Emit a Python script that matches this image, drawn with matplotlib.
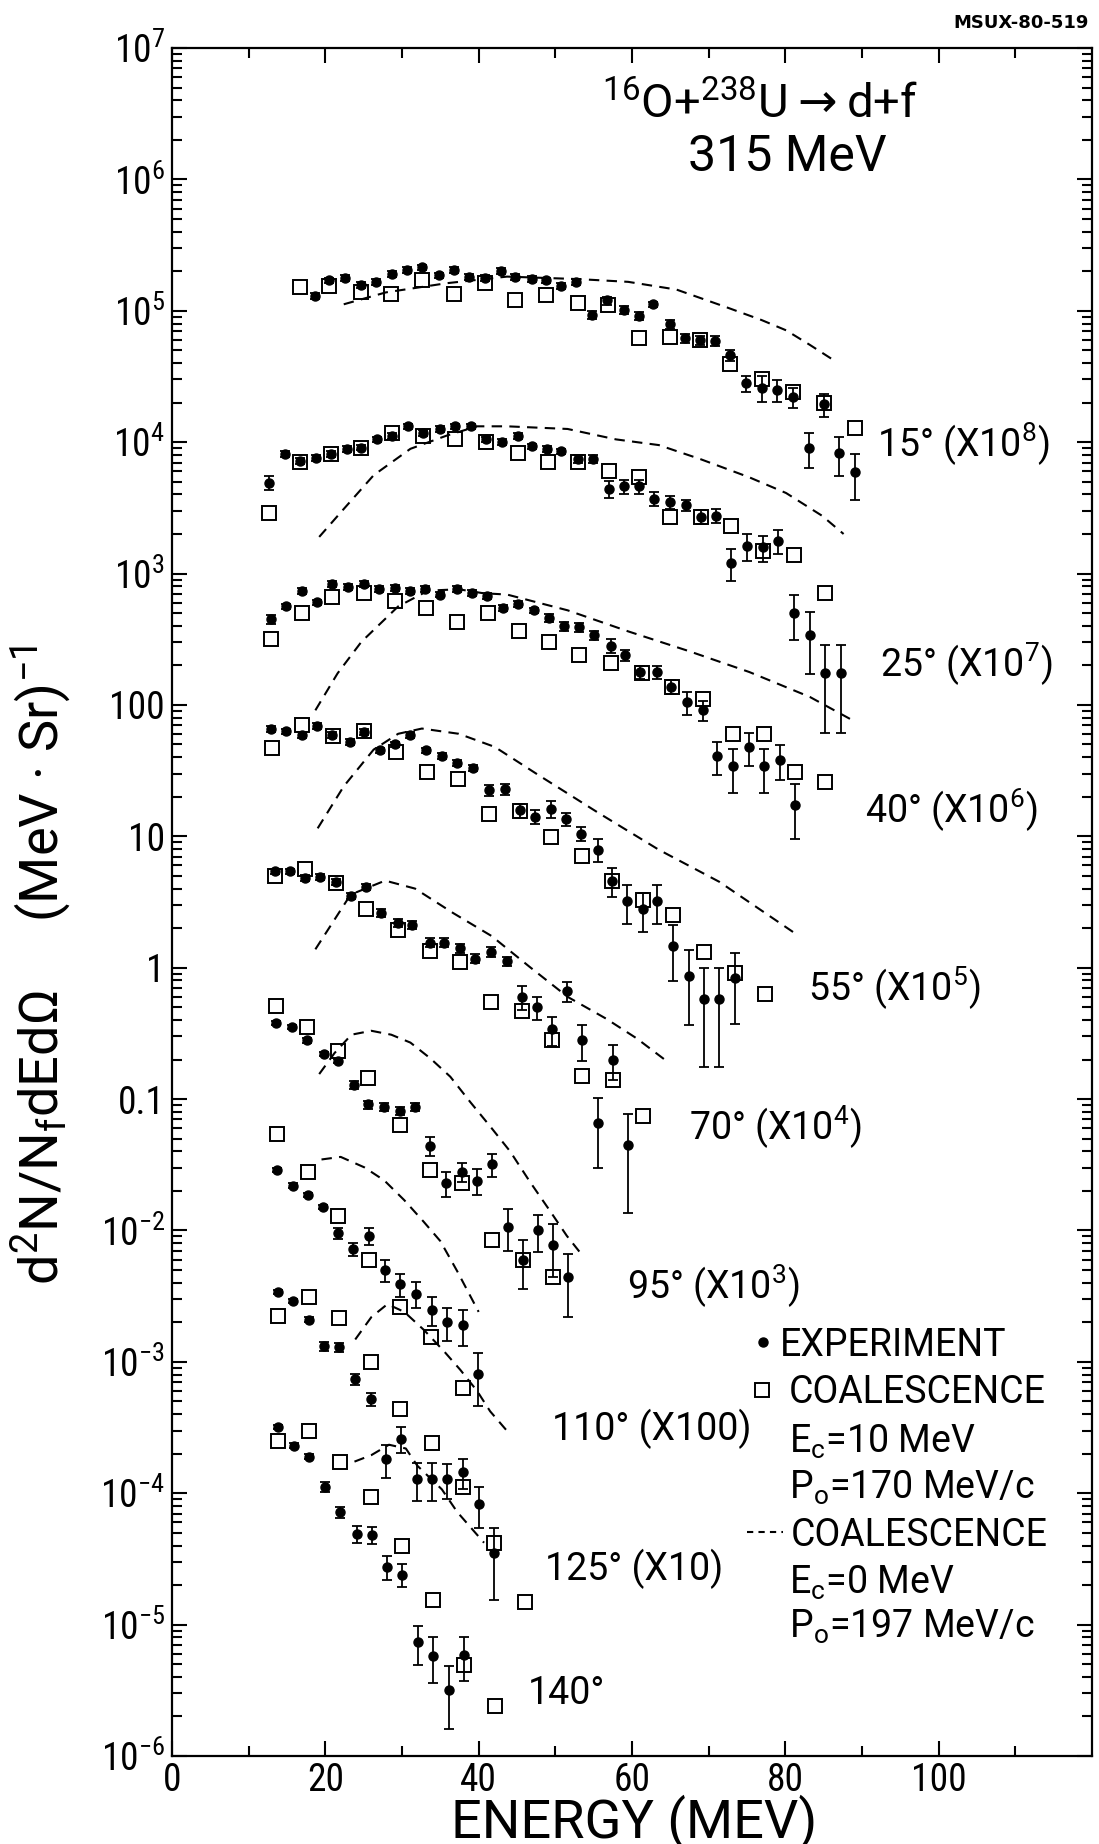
import numpy as np
import matplotlib
matplotlib.use('Agg')
import matplotlib.pyplot as plt
from matplotlib.ticker import FixedLocator, LogLocator, NullFormatter

# ---------------- data (already scaled by the factors) ----
# 15 deg (x1e8)
e15_exp = [18.7, 20.5, 22.5, 24.6, 26.6, 28.7, 30.7, 32.6, 34.8, 36.8, 38.8, 40.8, 42.9, 44.8, 46.9, 48.8,
           50.8, 52.7, 54.8, 56.8, 58.9, 60.9, 62.8, 64.9, 66.9, 68.9, 70.8, 72.8, 74.9, 76.9, 78.9, 81.0,
           83.1, 85.1, 87.0, 89.1]
y15_exp = [1.29e5, 1.70e5, 1.78e5, 1.58e5, 1.66e5, 1.91e5, 2.04e5, 2.14e5, 1.86e5, 2.04e5, 1.82e5, 1.78e5,
           2.00e5, 1.82e5, 1.74e5, 1.70e5, 1.55e5, 1.66e5, 9.3e4, 1.20e5, 1.02e5, 9.1e4, 1.12e5, 7.9e4,
           6.2e4, 6.0e4, 5.9e4, 4.6e4, 2.8e4, 2.6e4, 2.5e4, 2.2e4, 9.1e3, 1.95e4, 8.3e3, 5.9e3]
r15_exp = [0.05, 0.05, 0.05, 0.05, 0.05, 0.05, 0.05, 0.05, 0.05, 0.05, 0.05, 0.05, 0.05, 0.05, 0.05, 0.05,
           0.05, 0.05, 0.07, 0.07, 0.07, 0.07, 0.05, 0.08, 0.08, 0.08, 0.08, 0.10, 0.14, 0.22, 0.19, 0.18,
           0.30, 0.20, 0.33, 0.38]
e15_coal = [16.7, 20.5, 24.6, 28.5, 32.6, 36.8, 40.8, 44.8, 48.8, 52.9, 56.9, 60.9, 64.9, 68.9, 72.8, 76.9,
            81.0, 85.1, 89.1]
y15_coal = [1.51e5, 1.55e5, 1.38e5, 1.35e5, 1.70e5, 1.35e5, 1.62e5, 1.20e5, 1.32e5, 1.15e5, 1.10e5, 6.2e4,
            6.3e4, 6.0e4, 3.9e4, 3.0e4, 2.4e4, 2.0e4, 1.29e4]
e15_calc = [22.4, 27.9, 35.8, 43.7, 53.2, 59.5, 65.8, 72.2, 76.9, 80.1, 83.2, 86.6]
y15_calc = [1.12e5, 1.38e5, 1.62e5, 1.82e5, 1.74e5, 1.66e5, 1.45e5, 1.07e5, 8.5e4, 7.1e4, 5.5e4, 4.1e4]

# 25 deg (x1e7)
e25_exp = [12.7, 14.7, 16.7, 18.8, 20.8, 22.8, 24.7, 26.8, 28.7, 30.8, 32.8, 34.9, 36.9, 39.0, 41.0, 43.1,
           45.1, 47.0, 48.9, 50.8, 52.9, 54.9, 57.0, 58.9, 60.9, 62.9, 65.0, 67.0, 69.0, 70.9, 72.9, 75.0,
           77.1, 79.1, 81.1, 83.2, 85.2, 87.2]
y25_exp = [4.9e3, 8.1e3, 7.2e3, 7.6e3, 8.1e3, 8.9e3, 9.1e3, 1.05e4, 1.12e4, 1.32e4, 1.17e4, 1.26e4, 1.32e4,
           1.32e4, 1.05e4, 1.0e4, 1.12e4, 9.3e3, 8.9e3, 8.5e3, 7.4e3, 7.4e3, 4.4e3, 4.6e3, 4.6e3, 3.7e3,
           3.5e3, 3.3e3, 2.7e3, 2.75e3, 1.2e3, 1.62e3, 1.58e3, 1.78e3, 500, 340, 174, 174]
r25_exp = [0.12, 0.05, 0.05, 0.05, 0.05, 0.05, 0.05, 0.05, 0.05, 0.05, 0.05, 0.05, 0.05, 0.05, 0.05, 0.05,
           0.05, 0.05, 0.05, 0.05, 0.07, 0.07, 0.15, 0.12, 0.12, 0.12, 0.12, 0.10, 0.12, 0.12, 0.27, 0.23,
           0.23, 0.21, 0.38, 0.49, 0.65, 0.65]
e25_coal = [12.7, 16.7, 20.8, 24.7, 28.7, 32.8, 36.9, 41.0, 45.1, 49.1, 53.0, 57.0, 60.9, 65.0, 69.0, 72.9,
            77.1, 81.1, 85.2]
y25_coal = [2.9e3, 7.1e3, 8.1e3, 9.1e3, 1.17e4, 1.12e4, 1.05e4, 1.0e4, 8.3e3, 7.1e3, 7.1e3, 6.0e3, 5.4e3,
            2.7e3, 2.7e3, 2.3e3, 1.48e3, 1.38e3, 710]
e25_calc = [19.2, 22.4, 26.3, 31.1, 35.8, 39.8, 43.7, 51.6, 57.9, 63.5, 69.0, 75.3, 80.1, 84.8, 87.6]
y25_calc = [1.9e3, 3.1e3, 5.6e3, 8.9e3, 1.12e4, 1.32e4, 1.32e4, 1.26e4, 1.05e4, 9.5e3, 7.4e3, 5.4e3, 4.1e3,
            2.75e3, 2.0e3]

# 40 deg (x1e6)
e40_exp = [12.9, 14.9, 17.0, 18.9, 20.9, 23.0, 25.0, 27.0, 29.1, 31.1, 33.0, 35.0, 37.2, 39.1, 41.1, 43.2,
           45.1, 47.2, 49.2, 51.1, 53.1, 55.1, 57.2, 59.1, 61.1, 63.2, 65.1, 67.2, 69.2, 71.1, 73.2, 75.2,
           77.2, 79.3, 81.3]
y40_exp = [447, 562, 741, 603, 832, 794, 832, 759, 776, 741, 759, 692, 759, 708, 676, 550, 589, 525, 457,
           398, 389, 339, 282, 240, 178, 178, 138, 105, 91, 41, 34, 48, 34, 38, 17.4]
r40_exp = [0.08, 0.05, 0.05, 0.05, 0.05, 0.05, 0.05, 0.05, 0.05, 0.05, 0.05, 0.05, 0.05, 0.05, 0.05, 0.05,
           0.05, 0.05, 0.07, 0.08, 0.08, 0.08, 0.12, 0.10, 0.12, 0.12, 0.12, 0.20, 0.17, 0.28, 0.37, 0.28,
           0.37, 0.30, 0.45]
e40_coal = [12.9, 17.0, 20.9, 25.0, 29.1, 33.1, 37.2, 41.2, 45.2, 49.2, 53.1, 57.2, 61.3, 65.2, 69.2, 73.2,
            77.2, 81.3, 85.2]
y40_coal = [316, 501, 661, 708, 617, 550, 427, 501, 363, 302, 240, 209, 174, 138, 110, 60, 60, 31, 26]
e40_calc = [18.7, 21.6, 24.7, 29.5, 33.4, 37.4, 40.6, 43.7, 51.6, 59.5, 67.4, 75.3, 83.2, 89.2]
y40_calc = [91, 174, 302, 562, 741, 759, 708, 692, 525, 363, 257, 178, 115, 74]

# 55 deg (x1e5)
e55_exp = [12.9, 14.9, 17.0, 18.9, 20.9, 23.2, 25.1, 27.1, 29.1, 31.1, 33.1, 35.2, 37.2, 39.2, 41.3, 43.4,
           45.4, 47.4, 49.4, 51.4, 53.4, 55.5, 57.4, 59.3, 61.4, 63.3, 65.3, 67.4, 69.4, 71.4, 73.4]
y55_exp = [66, 63, 59, 69, 59, 52, 62, 45, 50, 59, 45, 41, 36, 33, 22.4, 22.9, 15.8, 14.1, 16.2, 13.5,
           10.5, 7.9, 4.6, 3.2, 2.8, 3.2, 1.45, 0.87, 0.58, 0.58, 0.83]
r55_exp = [0.05, 0.05, 0.05, 0.05, 0.05, 0.05, 0.05, 0.05, 0.05, 0.05, 0.05, 0.05, 0.05, 0.05, 0.10, 0.10,
           0.12, 0.12, 0.15, 0.12, 0.12, 0.20, 0.25, 0.33, 0.33, 0.33, 0.45, 0.58, 0.70, 0.70, 0.55]
e55_coal = [13.0, 17.0, 21.0, 25.1, 29.2, 33.3, 37.3, 41.3, 45.4, 49.4, 53.5, 57.4, 61.4, 65.3, 69.4, 73.4,
            77.4]
y55_coal = [46.8, 70.8, 57.5, 63.1, 43.7, 30.9, 27.5, 14.8, 15.5, 9.8, 7.1, 4.6, 3.3, 2.5, 1.32, 0.91, 0.63]
e55_calc = [19.0, 22.4, 26.3, 29.5, 32.6, 37.4, 42.1, 47.7, 55.6, 63.5, 71.4, 81.3]
y55_calc = [11.5, 24.0, 45.7, 60.3, 66.1, 60.3, 47.9, 29.5, 15.1, 7.9, 4.5, 1.82]

# 70 deg (x1e4)
e70_exp = [13.4, 15.4, 17.3, 19.3, 21.4, 23.4, 25.3, 27.3, 29.5, 31.3, 33.6, 35.5, 37.6, 39.5, 41.6, 43.7,
           45.7, 47.6, 49.6, 51.5, 53.5, 55.6, 57.5, 59.5]
y70_exp = [5.4, 5.4, 4.8, 4.9, 4.5, 3.5, 4.1, 2.6, 2.2, 2.1, 1.55, 1.55, 1.41, 1.17, 1.32, 1.12, 0.60,
           0.50, 0.34, 0.66, 0.28, 0.066, 0.20, 0.045]
r70_exp = [0.05, 0.05, 0.05, 0.05, 0.05, 0.05, 0.05, 0.07, 0.07, 0.07, 0.08, 0.08, 0.08, 0.08, 0.08, 0.08,
           0.20, 0.20, 0.25, 0.17, 0.30, 0.55, 0.30, 0.70]
e70_coal = [13.4, 17.4, 21.4, 25.3, 29.5, 33.6, 37.6, 41.6, 45.7, 49.6, 53.5, 57.5, 61.4]
y70_coal = [5.0, 5.6, 4.4, 2.8, 1.95, 1.35, 1.10, 0.55, 0.47, 0.28, 0.15, 0.14, 0.074]
e70_calc = [18.7, 23.3, 27.8, 31.7, 36.7, 41.7, 46.6, 51.6, 56.6, 60.6, 64.5]
y70_calc = [1.38, 3.6, 4.6, 4.0, 2.6, 1.74, 1.02, 0.60, 0.41, 0.29, 0.195]

# 95 deg (x1e3)
e95_exp = [13.5, 15.6, 17.6, 19.8, 21.6, 23.7, 25.6, 27.7, 29.7, 31.7, 33.7, 35.8, 37.8, 39.8, 41.7, 43.8,
           45.8, 47.7, 49.7, 51.7]
y95_exp = [0.38, 0.355, 0.28, 0.22, 0.195, 0.129, 0.091, 0.087, 0.081, 0.087, 0.044, 0.023, 0.028, 0.024,
           0.032, 0.0107, 0.0060, 0.010, 0.0078, 0.0044]
r95_exp = [0.04, 0.04, 0.04, 0.04, 0.04, 0.07, 0.07, 0.07, 0.07, 0.07, 0.16, 0.22, 0.17, 0.22, 0.20, 0.35,
           0.40, 0.32, 0.43, 0.50]
e95_coal = [13.6, 17.6, 21.6, 25.6, 29.7, 33.7, 37.8, 41.8, 45.8, 49.7]
y95_coal = [0.51, 0.355, 0.234, 0.145, 0.063, 0.029, 0.023, 0.0085, 0.0060, 0.0044]
e95_calc = [19.2, 21.2, 23.4, 26.0, 28.6, 31.1, 33.7, 36.3, 38.9, 41.5, 44.1, 46.7, 49.3, 51.5, 53.4]
y95_calc = [0.155, 0.224, 0.309, 0.331, 0.309, 0.269, 0.204, 0.148, 0.095, 0.062, 0.040, 0.0234, 0.0141,
            0.0091, 0.0066]

# 110 deg (x100)
e110_exp = [13.7, 15.8, 17.8, 19.7, 21.6, 23.6, 25.7, 27.8, 29.8, 31.8, 33.9, 35.9, 37.9, 39.9]
y110_exp = [0.0288, 0.0219, 0.0186, 0.0151, 0.0095, 0.0072, 0.0091, 0.0050, 0.0039, 0.0033, 0.0025,
            0.0020, 0.0019, 0.00081]
r110_exp = [0.04, 0.04, 0.04, 0.04, 0.10, 0.12, 0.15, 0.19, 0.20, 0.22, 0.25, 0.28, 0.31, 0.43]
e110_coal = [13.7, 17.8, 21.7, 25.7, 29.7, 33.8, 37.9]
y110_coal = [0.054, 0.028, 0.0129, 0.0060, 0.0026, 0.00155, 0.00063]
e110_calc = [19.5, 22.0, 25.1, 27.7, 30.3, 32.8, 35.0, 37.2, 40.0]
y110_calc = [0.0347, 0.0363, 0.0302, 0.0240, 0.0170, 0.0117, 0.0083, 0.0049, 0.0024]

# 125 deg (x10)
e125_exp = [13.8, 15.8, 17.9, 19.8, 21.8, 23.9, 25.9, 27.9, 29.9, 31.9, 33.9, 35.9, 37.9, 40.0, 42.0]
y125_exp = [3.4e-3, 2.9e-3, 2.1e-3, 1.32e-3, 1.29e-3, 7.4e-4, 5.2e-4, 1.82e-4, 2.6e-4, 1.29e-4, 1.29e-4,
            1.29e-4, 1.45e-4, 8.3e-5, 3.5e-5]
r125_exp = [0.04, 0.04, 0.04, 0.08, 0.08, 0.10, 0.12, 0.28, 0.22, 0.32, 0.32, 0.30, 0.26, 0.35, 0.56]
e125_coal = [13.8, 17.9, 21.8, 25.9, 29.8, 33.9, 37.9, 42.0, 46.1]
y125_coal = [2.24e-3, 3.1e-3, 2.14e-3, 1.0e-3, 4.4e-4, 2.4e-4, 1.12e-4, 4.2e-5, 1.48e-5]
e125_calc = [23.9, 26.0, 28.1, 30.3, 32.9, 35.5, 37.6, 39.8, 41.5, 44.1]
y125_calc = [1.48e-3, 2.19e-3, 2.75e-3, 2.4e-3, 1.74e-3, 1.20e-3, 8.7e-4, 6.0e-4, 4.2e-4, 2.8e-4]

# 140 deg (x1)
e140_exp = [13.8, 15.9, 17.9, 19.9, 21.9, 24.1, 26.1, 28.0, 30.0, 32.1, 34.1, 36.1, 38.1]
y140_exp = [3.2e-4, 2.3e-4, 1.9e-4, 1.12e-4, 7.2e-5, 4.9e-5, 4.8e-5, 2.75e-5, 2.4e-5, 7.4e-6, 5.8e-6,
            3.2e-6, 5.9e-6]
r140_exp = [0.04, 0.04, 0.04, 0.08, 0.10, 0.15, 0.15, 0.20, 0.20, 0.33, 0.38, 0.50, 0.37]
e140_coal = [13.8, 17.9, 21.9, 25.9, 30.0, 34.1, 38.1, 42.1]
y140_coal = [2.5e-4, 3.0e-4, 1.74e-4, 9.3e-5, 4.0e-5, 1.55e-5, 4.9e-6, 2.4e-6]
e140_calc = [23.8, 26.0, 28.3, 30.5, 32.0, 35.2, 37.2, 40.7]
y140_calc = [1.74e-4, 1.95e-4, 2.34e-4, 2.19e-4, 1.62e-4, 1.07e-4, 7.2e-5, 4.2e-5]

angle_labels = [r'15° (X10$\mathregular{^8}$)', r'25° (X10$\mathregular{^7}$)', r'40° (X10$\mathregular{^6}$)',
                r'55° (X10$\mathregular{^5}$)', r'70° (X10$\mathregular{^4}$)', r'95° (X10$\mathregular{^3}$)',
                '110° (X100)', '125° (X10)', '140°']
ytick_vals = [1e-6, 1e-5, 1e-4, 1e-3, 1e-2, 0.1, 1, 10, 100, 1e3, 1e4, 1e5, 1e6, 1e7]
ytick_labels = [r'$\mathregular{10^{-6}}$', r'$\mathregular{10^{-5}}$', r'$\mathregular{10^{-4}}$',
                r'$\mathregular{10^{-3}}$', r'$\mathregular{10^{-2}}$', '0.1', '1', '10', '100',
                r'$\mathregular{10^{3}}$', r'$\mathregular{10^{4}}$', r'$\mathregular{10^{5}}$',
                r'$\mathregular{10^{6}}$', r'$\mathregular{10^{7}}$']
xtick_vals = [0, 20, 40, 60, 80, 100]

groups = [
    (e15_exp, y15_exp, r15_exp, e15_coal, y15_coal, e15_calc, y15_calc),
    (e25_exp, y25_exp, r25_exp, e25_coal, y25_coal, e25_calc, y25_calc),
    (e40_exp, y40_exp, r40_exp, e40_coal, y40_coal, e40_calc, y40_calc),
    (e55_exp, y55_exp, r55_exp, e55_coal, y55_coal, e55_calc, y55_calc),
    (e70_exp, y70_exp, r70_exp, e70_coal, y70_coal, e70_calc, y70_calc),
    (e95_exp, y95_exp, r95_exp, e95_coal, y95_coal, e95_calc, y95_calc),
    (e110_exp, y110_exp, r110_exp, e110_coal, y110_coal, e110_calc, y110_calc),
    (e125_exp, y125_exp, r125_exp, e125_coal, y125_coal, e125_calc, y125_calc),
    (e140_exp, y140_exp, r140_exp, e140_coal, y140_coal, e140_calc, y140_calc),
]

# label anchor points in picture pixels (left, baseline)
label_pos = [(877, 457), (880, 677), (865, 823), (808, 1001), (689, 1140),
             (627, 1299), (552, 1440), (545, 1580), (528, 1704)]

W, H = 1099, 1844
NARROW = ['Roboto Condensed', 'Liberation Sans Narrow', 'DejaVu Sans']
THIN = ['Roboto', 'DejaVu Sans']


def fx(x):
    return x / W


def fy(y):
    return 1 - y / H


fig = plt.figure(figsize=(W / 100, H / 100), dpi=100)
ax = fig.add_axes([fx(172), fy(1756), (1092 - 172) / W, (1756 - 48) / H])
ax.set_yscale('log')
ax.set_xlim(0, 120)
ax.set_ylim(1e-6, 1e7)

for e, y, r, ec, yc, ed, yd in groups:
    y = np.array(y)
    ax.errorbar(e, y, yerr=y * np.array(r), fmt='o', ms=6.5, color='black', ecolor='black',
                elinewidth=1.3, capsize=3.3, capthick=1.3, zorder=3)
    ax.plot(ec, yc, 's', ms=9.5, mfc='none', mec='black', mew=1.4, zorder=4)
    ax.plot(ed, yd, color='black', lw=1.5, dashes=(5, 3.5), zorder=2)

for s in ax.spines.values():
    s.set_linewidth(1.6)

ax.set_yticks(ytick_vals, ytick_labels, fontsize=27, fontfamily=NARROW)
ax.yaxis.set_minor_locator(LogLocator(base=10, subs=np.arange(2, 10), numticks=30))
ax.yaxis.set_minor_formatter(NullFormatter())
ax.set_xticks(xtick_vals, [str(v) for v in xtick_vals], fontsize=27, fontfamily=NARROW)
ax.xaxis.set_minor_locator(FixedLocator([10, 30, 50, 70, 90, 110]))
ax.tick_params(which='both', direction='in', top=True, right=True, width=1.5, colors='black')
ax.tick_params(which='major', length=11)
ax.tick_params(which='minor', length=7)
ax.tick_params(axis='y', which='major', pad=5)
ax.tick_params(axis='x', which='major', pad=4)

# axis titles
fig.text(fx(634), fy(1838), 'ENERGY (MEV)', ha='center', va='baseline', fontsize=39,
         family=THIN)
fig.text(fx(42), fy(965), r'd$\mathregular{^2}$N/N$\mathregular{_f}$dEdΩ     (MeV · Sr)$\mathregular{^{-1}}$',
         rotation=90, ha='center', va='center', fontsize=39, family=THIN)

# reaction title
fig.text(fx(760), fy(118), r'$\mathregular{^{16}}$O+$\mathregular{^{238}}$U$\rightarrow$d+f',
         ha='center', va='baseline', fontsize=34, family=THIN)
fig.text(fx(787), fy(171), '315 MeV', ha='center', va='baseline', fontsize=36, family=THIN)
fig.text(fx(1089), fy(28), 'MSUX-80-519', ha='right', va='baseline', fontsize=13,
         fontweight='bold', family=['DejaVu Sans'])

for txt, (lx, ly) in zip(angle_labels, label_pos):
    fig.text(fx(lx), fy(ly), txt, ha='left', va='baseline', fontsize=27, family=THIN)

# legend drawn by hand as in the original
ax.plot([fx(763)], [fy(1342)], 'o', ms=6.5, color='black', transform=fig.transFigure, clip_on=False)
ax.plot([fx(762)], [fy(1390)], 's', ms=9.5, mfc='none', mec='black', mew=1.4,
        transform=fig.transFigure, clip_on=False)
ax.plot([fx(747), fx(783)], [fy(1532), fy(1532)], color='black', lw=1.5, dashes=(3, 2.5),
        transform=fig.transFigure, clip_on=False)
legend_lines = [('EXPERIMENT', 780, 1356), ('COALESCENCE', 789, 1403),
                (r'E$\mathregular{_c}$=10 MeV', 789, 1453), (r'P$\mathregular{_o}$=170 MeV/c', 789, 1499),
                ('COALESCENCE', 791, 1546), (r'E$\mathregular{_c}$=0 MeV', 789, 1594),
                (r'P$\mathregular{_o}$=197 MeV/c', 789, 1638)]
for txt, lx, ly in legend_lines:
    fig.text(fx(lx), fy(ly), txt, ha='left', va='baseline', fontsize=27, family=THIN)

fig.savefig('out.png', dpi=100, facecolor='white')
